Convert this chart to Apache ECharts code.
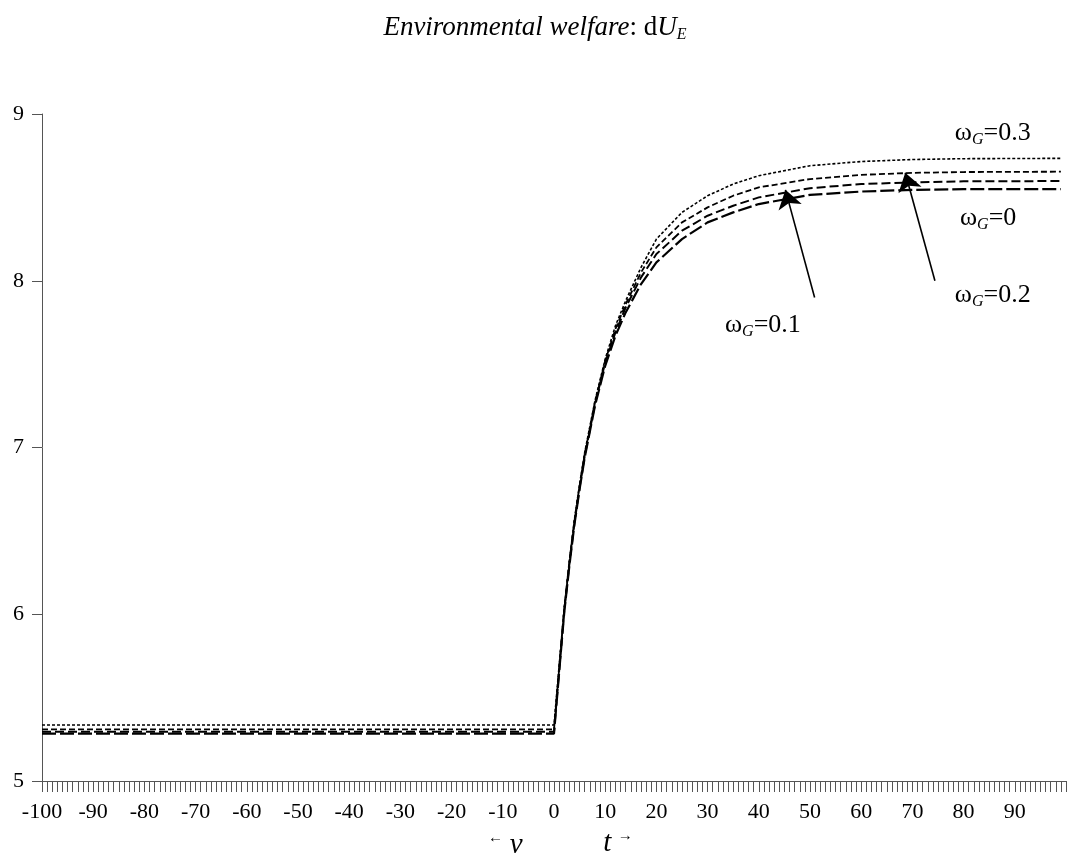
<!DOCTYPE html>
<html>
<head>
<meta charset="utf-8">
<script src="https://cdn.jsdelivr.net/npm/echarts@6/dist/echarts.min.js"></script>
<style>
html,body{margin:0;padding:0;background:#fff;}
#chart{width:1070px;height:859px;}
</style>
</head>
<body>
<div id="chart"></div>
<script>
// time axis (v for t<0, t for t>=0)
const tValues = [-100, 0, 1, 2, 3, 4, 5, 6, 8, 10, 12, 14, 17, 20, 25, 30, 35, 40, 50, 60, 70, 80, 99];
const seriesW03 = [5.336, 5.336, 5.69, 6.04, 6.32, 6.57, 6.78, 6.97, 7.28, 7.53, 7.73, 7.88, 8.08, 8.25, 8.41, 8.51, 8.58, 8.63, 8.69, 8.715, 8.727, 8.732, 8.734];
const seriesW02 = [5.310, 5.310, 5.67, 6.03, 6.31, 6.56, 6.77, 6.96, 7.27, 7.52, 7.71, 7.86, 8.05, 8.20, 8.35, 8.44, 8.51, 8.56, 8.61, 8.635, 8.647, 8.652, 8.654];
const seriesW01 = [5.296, 5.296, 5.66, 6.02, 6.30, 6.55, 6.76, 6.95, 7.26, 7.51, 7.69, 7.84, 8.02, 8.16, 8.30, 8.39, 8.45, 8.50, 8.555, 8.58, 8.59, 8.596, 8.598];
const seriesW0  = [5.284, 5.284, 5.65, 6.01, 6.29, 6.54, 6.75, 6.94, 7.25, 7.49, 7.67, 7.81, 7.98, 8.11, 8.25, 8.35, 8.41, 8.46, 8.515, 8.535, 8.545, 8.549, 8.550];
const xTickLabels = [-100, -90, -80, -70, -60, -50, -40, -30, -20, -10, 0, 10, 20, 30, 40, 50, 60, 70, 80, 90];
const yTickLabels = [5, 6, 7, 8, 9];
// annotation labels
const labelNames = ['0.3', '0', '0.2', '0.1'];
const labelPos = [[85.7, 8.886], [84.8, 8.376], [85.7, 7.915], [40.8, 7.735]];
// arrows: from label to curve
const arrows = [
  [[50.9, 7.90], [45.2, 8.545]],
  [[74.4, 8.00], [68.6, 8.648]]
];
// direction captions below the axis: [t position, text]
const captionV = -9.5;
const captionT = 12.5;

const FONT = '"Liberation Serif", "DejaVu Serif", serif';
const chart = echarts.init(document.getElementById('chart'));

function mk(vals) { return tValues.map((t, i) => [t, vals[i]]); }
function lineSeries(name, vals, dash, width) {
  return {
    name: name, type: 'line', data: mk(vals), showSymbol: false, smooth: false,
    lineStyle: { color: '#000', width: width, type: dash }, z: 3
  };
}

const option = {
  backgroundColor: '#fff',
  animation: false,
  title: {
    text: '{i|Environmental welfare}{r|: d}{i|U}{s|E}',
    left: 'center', top: 8,
    textStyle: {
      fontWeight: 'normal',
      rich: {
        i: { fontFamily: FONT, fontStyle: 'italic', fontWeight: 'normal', fontSize: 27, color: '#000' },
        r: { fontFamily: FONT, fontWeight: 'normal', fontSize: 27, color: '#000' },
        s: { fontFamily: FONT, fontStyle: 'italic', fontWeight: 'normal', fontSize: 16, color: '#000', verticalAlign: 'bottom', padding: [14, 0, 0, 0] }
      }
    }
  },
  grid: { left: 42, right: 4, top: 114, bottom: 78 },
  xAxis: {
    type: 'value', min: -100, max: 100, interval: 10,
    axisLine: { lineStyle: { color: '#555', width: 1 } },
    axisTick: { show: true, length: 11, lineStyle: { color: '#555' } },
    minorTick: { show: true, splitNumber: 10, length: 11, lineStyle: { color: '#555' } },
    splitLine: { show: false },
    axisLabel: {
      fontFamily: FONT, fontSize: 22, color: '#000', margin: 20,
      formatter: function (v) { return xTickLabels.indexOf(v) >= 0 ? String(v) : ''; }
    }
  },
  yAxis: {
    type: 'value', min: 5, max: 9, interval: 1,
    axisLine: { show: true, onZero: false, lineStyle: { color: '#555', width: 1 } },
    axisTick: { show: true, length: 10, lineStyle: { color: '#555' } },
    splitLine: { show: false },
    axisLabel: {
      fontFamily: FONT, fontSize: 22, color: '#000', margin: 18,
      formatter: function (v) { return yTickLabels.indexOf(v) >= 0 ? String(v) : ''; }
    }
  },
  series: [
    lineSeries('ωG=0.3', seriesW03, [3, 2], 1.6),
    lineSeries('ωG=0.2', seriesW02, [6, 3], 1.8),
    lineSeries('ωG=0.1', seriesW01, [9, 4], 2.0),
    lineSeries('ωG=0', seriesW0, [14, 4], 2.2),
    {
      name: 'labels', type: 'scatter', symbolSize: 0, z: 5,
      itemStyle: { opacity: 1 },
      data: labelPos.map((p, i) => ({ value: p, name: labelNames[i] })),
      label: {
        show: true, position: 'inside', opacity: 1,
        formatter: function (p) { return '{w|ω}{g|G}{w|=' + p.name + '}'; },
        rich: {
          w: { fontFamily: FONT, fontSize: 26, color: '#000' },
          g: { fontFamily: FONT, fontStyle: 'italic', fontSize: 16, color: '#000', verticalAlign: 'bottom', padding: [13, 0, 0, 0] }
        }
      },
      markLine: {
        silent: true, symbol: ['none', 'arrow'], symbolSize: 18,
        label: { show: false },
        lineStyle: { color: '#000', width: 1.6, type: 'solid', opacity: 1 },
        itemStyle: { color: '#000', opacity: 1 },
        data: arrows.map(a => [{ coord: a[0] }, { coord: a[1] }]),
        animation: false
      }
    }
  ]
};
chart.setOption(option);

// axis direction captions below the x axis
const pv = chart.convertToPixel({ gridIndex: 0 }, [captionV, 5]);
const pt = chart.convertToPixel({ gridIndex: 0 }, [captionT, 5]);
chart.setOption({
  graphic: [
    {
      type: 'text', x: pv[0], y: pv[1] + 64,
      style: {
        text: '{a|←}  {v|v}', align: 'center', verticalAlign: 'middle',
        rich: {
          a: { fontFamily: FONT, fontSize: 15, fill: '#000', verticalAlign: 'top', padding: [0, 0, 10, 0] },
          v: { fontFamily: FONT, fontStyle: 'italic', fontSize: 29, fill: '#000' }
        }
      }
    },
    {
      type: 'text', x: pt[0], y: pt[1] + 62,
      style: {
        text: '{v|t}  {a|→}', align: 'center', verticalAlign: 'middle',
        rich: {
          a: { fontFamily: FONT, fontSize: 15, fill: '#000', verticalAlign: 'top', padding: [0, 0, 10, 0] },
          v: { fontFamily: FONT, fontStyle: 'italic', fontSize: 29, fill: '#000' }
        }
      }
    }
  ]
});
</script>
</body>
</html>
